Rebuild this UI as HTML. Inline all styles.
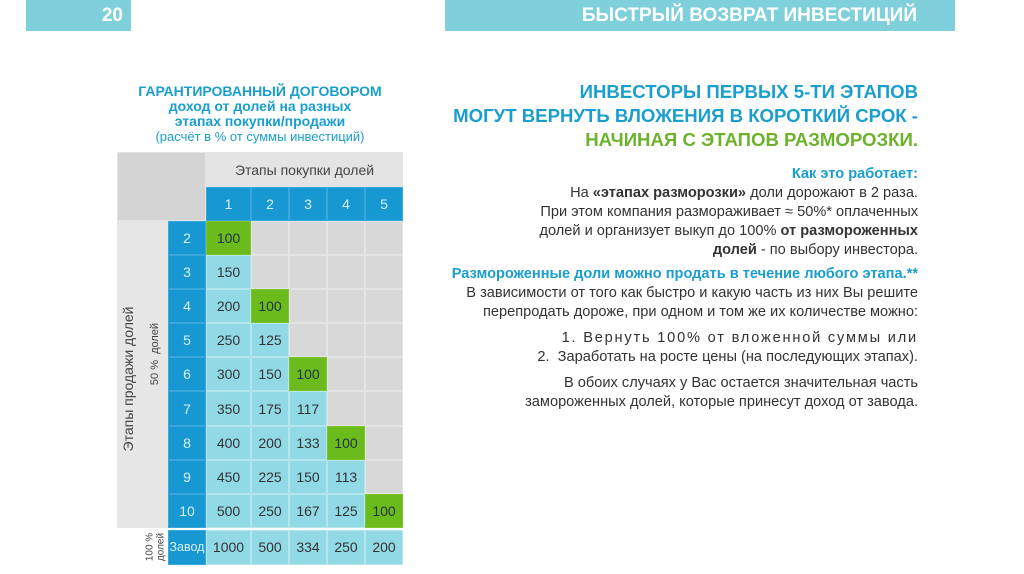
<!DOCTYPE html>
<html><head><meta charset="utf-8"><style>
body{margin:0;width:1024px;height:574px;background:#fff;position:relative;overflow:hidden;font-family:"Liberation Sans","DejaVu Sans",sans-serif}
.a{position:absolute}
.bar{background:#80d0dc;color:#fff;font-weight:bold;font-size:19px}
.g{display:grid;grid-template-columns:51px 38px 45px 38px 38px 38px 38px;grid-template-rows:35px 34px repeat(9,34.1px) 2px 35px;position:absolute;left:117px;top:152px;width:286px}
.g div{display:flex;align-items:center;justify-content:center;font-size:14px;box-sizing:border-box}
.e{background:#d8d8d8;border:1px solid #e4e4e4}
.b{background:#1798d2;color:#d8f0fa;border:1px solid #3aa8dc}
.c{background:#92d9e6;color:#333;border:1px solid #b4e6ee}
.gr{background:#6cbb1c;color:#234;border:1px solid #7cc52e}
.r{text-align:right;right:106px}
.t{font-size:14.6px;color:#333;line-height:19px}
.rot{position:absolute;white-space:nowrap;transform:translate(-50%,-50%) rotate(-90deg);color:#444}
</style></head><body>
<div class="a bar" style="left:26px;top:0;width:105px;height:31px"><span class="a" style="right:8px;top:5px">20</span></div>
<div class="a bar" style="left:445px;top:0;width:510px;height:31px"><span class="a" style="right:38px;top:5px">БЫСТРЫЙ ВОЗВРАТ ИНВЕСТИЦИЙ</span></div>

<div class="a" style="left:110px;top:84px;width:300px;text-align:center;color:#1a9ecf;line-height:15px">
<div style="font-weight:bold;font-size:14px">ГАРАНТИРОВАННЫЙ ДОГОВОРОМ</div>
<div style="font-weight:bold;font-size:14px">доход от долей на разных</div>
<div style="font-weight:bold;font-size:14px">этапах покупки/продажи</div>
<div style="font-size:13px">(расчёт в % от суммы инвестиций)</div>
</div>

<div class="g">
<div class="e" style="grid-column:1/3;grid-row:1/3;background:#d4d4d4"></div>
<div style="grid-column:3/8;grid-row:1;background:#e4e4e4;color:#444;font-size:14px">Этапы покупки долей</div>
<div class="b">1</div><div class="b">2</div><div class="b">3</div><div class="b">4</div><div class="b">5</div>
<div style="grid-column:1;grid-row:3/12;background:#e6e6e6;position:relative">
<span class="rot" style="left:11px;top:158px;font-size:14px">Этапы продажи долей</span>
<span class="rot" style="left:38px;top:133px;font-size:11px">50 %&nbsp;&nbsp;долей</span>
</div>
<div class="b" style="grid-column:2;grid-row:3">2</div><div class="gr">100</div><div class="e"></div><div class="e"></div><div class="e"></div><div class="e"></div>
<div class="b" style="grid-column:2">3</div><div class="c">150</div><div class="e"></div><div class="e"></div><div class="e"></div><div class="e"></div>
<div class="b" style="grid-column:2">4</div><div class="c">200</div><div class="gr">100</div><div class="e"></div><div class="e"></div><div class="e"></div>
<div class="b" style="grid-column:2">5</div><div class="c">250</div><div class="c">125</div><div class="e"></div><div class="e"></div><div class="e"></div>
<div class="b" style="grid-column:2">6</div><div class="c">300</div><div class="c">150</div><div class="gr">100</div><div class="e"></div><div class="e"></div>
<div class="b" style="grid-column:2">7</div><div class="c">350</div><div class="c">175</div><div class="c">117</div><div class="e"></div><div class="e"></div>
<div class="b" style="grid-column:2">8</div><div class="c">400</div><div class="c">200</div><div class="c">133</div><div class="gr">100</div><div class="e"></div>
<div class="b" style="grid-column:2">9</div><div class="c">450</div><div class="c">225</div><div class="c">150</div><div class="c">113</div><div class="e"></div>
<div class="b" style="grid-column:2">10</div><div class="c">500</div><div class="c">250</div><div class="c">167</div><div class="c">125</div><div class="gr">100</div>
<div style="grid-column:1/8;grid-row:12;background:#fff"></div>
<div style="grid-column:1;grid-row:13;background:#fff;position:relative">
<span class="rot" style="left:33px;top:17px;font-size:10px">100 %</span>
<span class="rot" style="left:44px;top:17px;font-size:10px">долей</span></div>
<div class="b" style="grid-column:2;grid-row:13;font-size:12.5px">Завод</div><div class="c">1000</div><div class="c">500</div><div class="c">334</div><div class="c">250</div><div class="c">200</div>
</div>

<div class="a r" style="top:80px;font-weight:bold;font-size:18.6px;line-height:24px;color:#1a9ecf;white-space:nowrap">
ИНВЕСТОРЫ ПЕРВЫХ 5-ТИ ЭТАПОВ<br>МОГУТ ВЕРНУТЬ ВЛОЖЕНИЯ В КОРОТКИЙ СРОК -<br><span style="color:#6cb22c">НАЧИНАЯ С ЭТАПОВ РАЗМОРОЗКИ.</span></div>

<div class="a r t" style="top:165px;white-space:nowrap">
<b style="color:#1a9ecf">Как это работает:</b><br>На <b>«этапах разморозки»</b> доли дорожают в 2 раза.<br>При этом компания размораживает ≈ 50%* оплаченных<br>долей и организует выкуп до 100% <b>от размороженных<br>долей</b> - по выбору инвестора.</div>

<div class="a r t" style="top:265px;white-space:nowrap">
<b style="color:#1a9ecf">Размороженные доли можно продать в течение любого этапа.**</b><br>В зависимости от того как быстро и какую часть из них Вы решите<br>перепродать дороже, при одном и том же их количестве можно:</div>

<div class="a r t" style="top:329px;white-space:nowrap">
<span style="letter-spacing:1.8px">1. Вернуть 100% от вложенной суммы или</span><br>2.&nbsp;&nbsp;Заработать на росте цены (на последующих этапах).</div>

<div class="a r t" style="top:374px;white-space:nowrap">
В обоих случаях у Вас остается значительная часть<br>замороженных долей, которые принесут доход от завода.</div>
</body></html>
